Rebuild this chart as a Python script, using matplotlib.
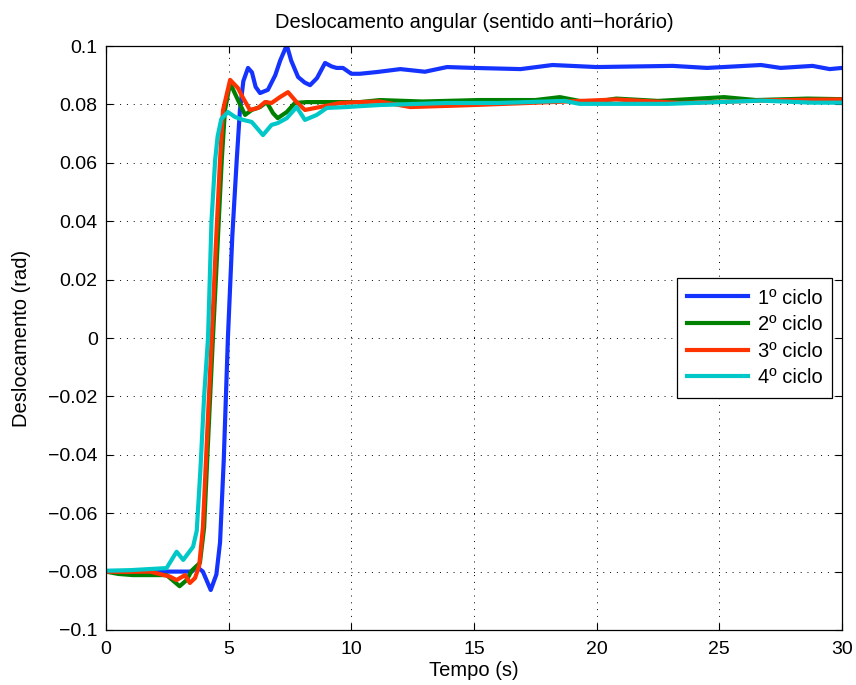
import matplotlib
matplotlib.use("Agg")
import matplotlib.pyplot as plt

plt.rcParams['font.family'] = ['Liberation Sans', 'DejaVu Sans']

# 1o ciclo
t1 = [0, 1, 2, 3, 3.5, 3.7, 3.95, 4.27, 4.5, 4.65, 4.8, 4.97, 5.15, 5.33, 5.46, 5.6, 5.79,
      5.95, 6.1, 6.28, 6.6, 6.9, 7.1, 7.37, 7.55, 7.83, 8.1, 8.32, 8.6, 8.93, 9.2, 9.4, 9.66,
      10.0, 10.35, 11.05, 12.0, 13.0, 13.9, 15.0, 16.9, 18.2, 20.0, 23.1, 24.5, 26.7, 27.5,
      28.8, 29.5, 30]
y1 = [-0.080, -0.080, -0.080, -0.080, -0.080, -0.0783, -0.080, -0.0863, -0.081, -0.070,
      -0.042, 0.0, 0.035, 0.061, 0.078, 0.088, 0.0925, 0.091, 0.086, 0.0839, 0.085, 0.090,
      0.095, 0.1003, 0.095, 0.0894, 0.0875, 0.0866, 0.089, 0.0942, 0.093, 0.0925, 0.0925,
      0.0905, 0.0905, 0.0911, 0.0921, 0.0912, 0.0928, 0.0925, 0.0921, 0.0935, 0.0928,
      0.0932, 0.0925, 0.0935, 0.0925, 0.0932, 0.0921, 0.0925]

# 2o ciclo
t2 = [0, 0.5, 1.1, 2.47, 3.0, 3.29, 3.49, 3.83, 4.0, 4.18, 4.36, 4.55, 4.72, 4.85, 5.06,
      5.38, 5.67, 5.94, 6.28, 6.55, 6.81, 7.0, 7.37, 7.7, 8.18, 9.13, 10.35, 11.17, 12.9,
      15.2, 17.5, 18.5, 19.3, 20.0, 20.8, 22.5, 25.2, 26.5, 28.6, 30]
y2 = [-0.080, -0.0808, -0.0812, -0.0812, -0.085, -0.0829, -0.0797, -0.077, -0.065, -0.032,
      0.0, 0.032, 0.061, 0.078, 0.0873, 0.0815, 0.0764, 0.0781, 0.0791, 0.0808, 0.077,
      0.0753, 0.0774, 0.0805, 0.0808, 0.0808, 0.0808, 0.0815, 0.081, 0.0815, 0.0815,
      0.0825, 0.0812, 0.081, 0.082, 0.0812, 0.0825, 0.0815, 0.082, 0.0818]

# 3o ciclo
t3 = [0, 0.8, 1.8, 2.6, 2.88, 3.22, 3.42, 3.63, 3.8, 3.95, 4.13, 4.31, 4.48, 4.65, 4.77,
      5.06, 5.38, 5.59, 5.87, 6.2, 6.48, 6.75, 7.09, 7.42, 7.77, 8.11, 8.72, 9.54, 10.35,
      11.17, 12.4, 15.0, 18.8, 20.8, 23.4, 27.5, 30]
y3 = [-0.080, -0.0801, -0.080, -0.0817, -0.0829, -0.0812, -0.0839, -0.0822, -0.078,
      -0.065, -0.032, 0.0, 0.032, 0.061, 0.078, 0.0884, 0.0856, 0.0822, 0.0781, 0.0788,
      0.0808, 0.0805, 0.0825, 0.0842, 0.0808, 0.0781, 0.0791, 0.0805, 0.0808, 0.081,
      0.0791, 0.0798, 0.081, 0.0817, 0.0805, 0.0815, 0.0817]

# 4o ciclo
t4 = [0, 1, 2.47, 2.88, 3.15, 3.55, 3.7, 3.85, 4.0, 4.16, 4.3, 4.45, 4.55, 4.7, 4.97,
      5.26, 5.59, 5.94, 6.4, 6.75, 7.0, 7.37, 7.77, 8.11, 8.59, 9.0, 9.81, 10.35, 11.17,
      13.9, 16.0, 18.7, 19.3, 22.9, 26.7, 28.8, 30]
y4 = [-0.0797, -0.0795, -0.0788, -0.0732, -0.076, -0.0715, -0.066, -0.045, -0.02, 0.0,
      0.04, 0.061, 0.069, 0.075, 0.0774, 0.0757, 0.0747, 0.074, 0.0695, 0.073, 0.0736,
      0.0753, 0.0791, 0.0747, 0.0764, 0.0788, 0.0791, 0.0794, 0.0798, 0.0805, 0.0805,
      0.0812, 0.0802, 0.0802, 0.0813, 0.0806, 0.0806]

labels = ['1º ciclo', '2º ciclo', '3º ciclo', '4º ciclo']
colors = ['#1433ff', '#008000', '#ff3300', '#00c8c8']

xticks = [0, 5, 10, 15, 20, 25, 30]
yticks = [-0.1, -0.08, -0.06, -0.04, -0.02, 0, 0.02, 0.04, 0.06, 0.08, 0.1]
ytick_labels = ['\u22120.1', '\u22120.08', '\u22120.06', '\u22120.04', '\u22120.02', '0',
                '0.02', '0.04', '0.06', '0.08', '0.1']

fig = plt.figure(figsize=(8.56, 6.85), dpi=100)
ax = fig.add_axes([0.1238, 0.0803, 0.8598, 0.8525])

for t, y, lab, c in zip([t1, t2, t3, t4], [y1, y2, y3, y4], labels, colors):
    ax.plot(t, y, color=c, lw=3, label=lab)

ax.set_xlim(0, 30)
ax.set_ylim(-0.1, 0.1)
ax.set_xticks(xticks)
ax.set_xticklabels([str(v) for v in xticks])
ax.set_yticks(yticks)
ax.set_yticklabels(ytick_labels)
ax.tick_params(direction='in', top=True, right=True, length=5, width=0.8, labelsize=14)
ax.tick_params(axis='x', pad=8)
ax.tick_params(axis='y', pad=6)
ax.grid(True, color='black', linestyle=(0, (1, 6)), linewidth=0.7)
for s in ax.spines.values():
    s.set_linewidth(0.9)
    s.set_color('black')

ax.set_title('Deslocamento angular (sentido anti\u2212horário)', fontsize=14.5, pad=13)
ax.set_xlabel('Tempo (s)', fontsize=14.5, labelpad=2)
ax.set_ylabel('Deslocamento (rad)', fontsize=14.5, labelpad=12)

leg = ax.legend(loc='center right', bbox_to_anchor=(0.987, 0.5), borderaxespad=0,
                fontsize=14.5, fancybox=False, framealpha=1, edgecolor='black',
                handlelength=3.0, borderpad=0.5, labelspacing=0.38, handletextpad=0.5)
leg.get_frame().set_linewidth(0.9)

fig.savefig('out.png', dpi=100)
